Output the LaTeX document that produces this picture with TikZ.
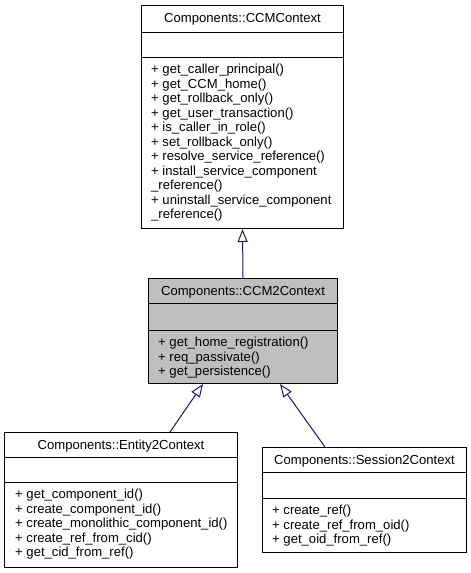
\documentclass[tikz,border=0pt]{standalone}
\usepackage{fontspec}
\setmainfont{Liberation Sans}
\usetikzlibrary{arrows.meta,calc}
\definecolor{edgeblue}{RGB}{25,25,112}
\definecolor{boxgray}{RGB}{191,191,191}
\begin{document}
\begin{tikzpicture}[x=1pt,y=-1pt,
  box/.style={draw=black, line width=1pt, rectangle, inner sep=0pt, anchor=north west},
  sepline/.style={draw=black, line width=1pt},
  title/.style={font=\fontsize{13.1}{14.5}\selectfont, anchor=base, inner sep=0pt},
  members/.style={font=\fontsize{13.1}{14.5}\selectfont, anchor=north west, align=left, inner sep=0pt},
  inherit/.style={draw=edgeblue, line width=1pt, -{Triangle[open, length=13pt, width=10pt]}}
]
\useasboundingbox (0,0) rectangle (471,573);

% Components::CCMContext
\node[box, minimum width=202pt, minimum height=223pt] (ccm) at (141,5) {};
\draw[sepline] ($(ccm.north west)+(0,27)$) -- ($(ccm.north east)+(0,27)$);
\draw[sepline] ($(ccm.north west)+(0,52)$) -- ($(ccm.north east)+(0,52)$);
\node[title] (ccmT) at ($(ccm.north)+(0,17.5)$) {Components::CCMContext};
\node[members] (ccmM) at ($(ccm.north west)+(10,59.1)$) {+ get\_caller\_principal()\\
+ get\_CCM\_home()\\
+ get\_rollback\_only()\\
+ get\_user\_transaction()\\
+ is\_caller\_in\_role()\\
+ set\_rollback\_only()\\
+ resolve\_service\_reference()\\
+ install\_service\_component\\
\_reference()\\
+ uninstall\_service\_component\\
\_reference()};

% Components::CCM2Context
\node[box, fill=boxgray, minimum width=189pt, minimum height=105pt] (ccm2) at (148,278) {};
\draw[sepline] ($(ccm2.north west)+(0,25)$) -- ($(ccm2.north east)+(0,25)$);
\draw[sepline] ($(ccm2.north west)+(0,52)$) -- ($(ccm2.north east)+(0,52)$);
\node[title] (ccm2T) at ($(ccm2.north)+(0,17.5)$) {Components::CCM2Context};
\node[members] (ccm2M) at ($(ccm2.north west)+(10,59.1)$) {+ get\_home\_registration()\\
+ req\_passivate()\\
+ get\_persistence()};

% Components::Entity2Context
\node[box, minimum width=233pt, minimum height=135pt] (ent) at (4,432) {};
\draw[sepline] ($(ent.north west)+(0,25)$) -- ($(ent.north east)+(0,25)$);
\draw[sepline] ($(ent.north west)+(0,50)$) -- ($(ent.north east)+(0,50)$);
\node[title] (entT) at ($(ent.north)+(0,17.5)$) {Components::Entity2Context};
\node[members] (entM) at ($(ent.north west)+(11,57.1)$) {+ get\_component\_id()\\
+ create\_component\_id()\\
+ create\_monolithic\_component\_id()\\
+ create\_ref\_from\_cid()\\
+ get\_cid\_from\_ref()};

% Components::Session2Context
\node[box, minimum width=204pt, minimum height=105pt] (ses) at (262,447) {};
\draw[sepline] ($(ses.north west)+(0,25)$) -- ($(ses.north east)+(0,25)$);
\draw[sepline] ($(ses.north west)+(0,51)$) -- ($(ses.north east)+(0,51)$);
\node[title] (sesT) at ($(ses.north)+(0,17.5)$) {Components::Session2Context};
\node[members] (sesM) at ($(ses.north west)+(10,58.1)$) {+ create\_ref()\\
+ create\_ref\_from\_oid()\\
+ get\_oid\_from\_ref()};

% inheritance arrows
\draw[inherit] (ccm2.north) -- (ccm.south);
\draw[inherit] ($(ent.north west)+(166,0)$) -- ($(ccm2.south west)+(55,0)$);
\draw[inherit] ($(ses.north west)+(63,0)$) -- ($(ccm2.south west)+(132,0)$);
\end{tikzpicture}
\end{document}
